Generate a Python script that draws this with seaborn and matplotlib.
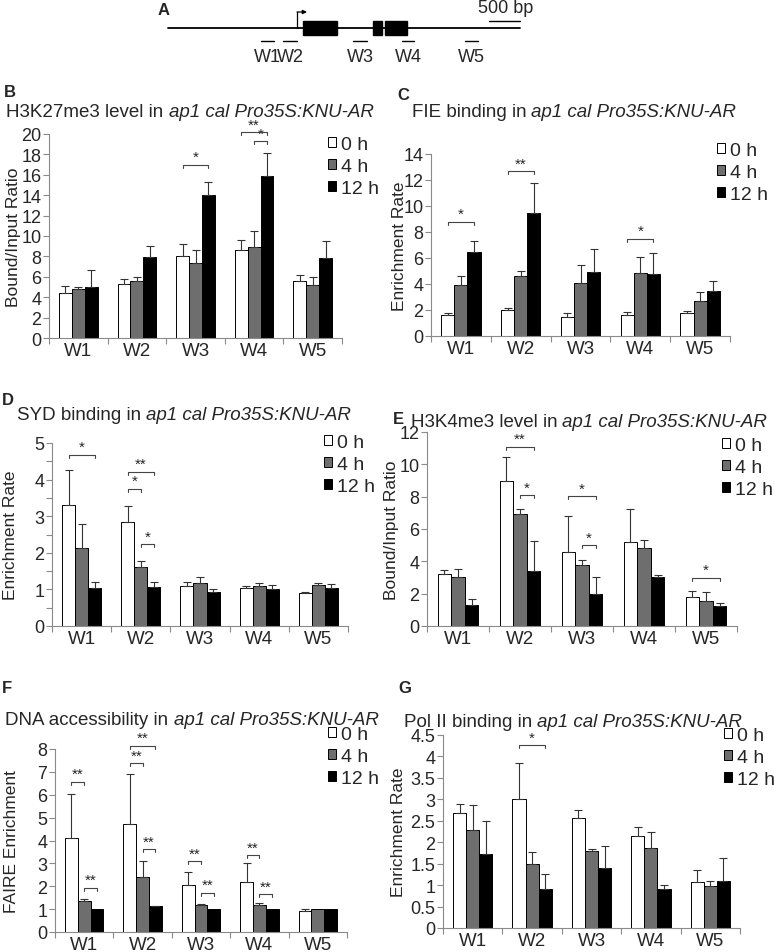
import numpy as np
import pandas as pd
import matplotlib
matplotlib.use("Agg")
import matplotlib.pyplot as plt
import seaborn as sns
from matplotlib.patches import Rectangle, Patch
from matplotlib.ticker import MultipleLocator

sns.set_theme(style="ticks")
plt.rcParams["font.family"] = ["Liberation Sans", "DejaVu Sans"]

W, H = 774, 953
fig = plt.figure(figsize=(W / 100, H / 100), dpi=100)

regions = ["W1", "W2", "W3", "W4", "W5"]
times = ["0 h", "4 h", "12 h"]
colors = ["#ffffff", "#6e6e6e", "#000000"]
title_tail = "ap1 cal Pro35S:KNU-AR"

# ---------------- Panel A gene model (bp) ----------------
gene_len = 5680
exons = [(2180, 2726), (3307, 3452), (3500, 3855)]
tss = 2081
amplicons = [(1500, 1710), (1855, 2080), (2984, 3210), (3774, 3968), (4790, 5000)]
scale_bar = (5180, 5680)

# ---------------- Panel B: H3K27me3 ----------------
b_mean = [[4.4, 5.3, 8.0, 8.6, 5.6],
          [4.8, 5.6, 7.4, 8.9, 5.2],
          [5.0, 7.9, 14.0, 15.9, 7.8]]
b_err = [[0.7, 0.5, 1.2, 1.0, 0.6],
         [0.2, 0.4, 1.2, 1.6, 0.8],
         [1.7, 1.1, 1.3, 2.2, 1.7]]
b_sig = [(2, 0, 2, 17.0, "*"), (3, 0, 2, 20.2, "**"), (3, 1, 2, 19.3, "*")]

# ---------------- Panel C: FIE ----------------
c_mean = [[1.6, 2.0, 1.5, 1.6, 1.8],
          [3.95, 4.6, 4.1, 4.85, 2.7],
          [6.5, 9.45, 4.95, 4.8, 3.45]]
c_err = [[0.2, 0.15, 0.3, 0.25, 0.1],
         [0.7, 0.4, 1.35, 1.2, 0.65],
         [0.8, 2.3, 1.75, 1.6, 0.75]]
c_sig = [(0, 0, 2, 8.8, "*"), (1, 0, 2, 12.7, "**"), (3, 0, 2, 7.5, "*")]

# ---------------- Panel D: SYD ----------------
d_mean = [[3.3, 2.85, 1.08, 1.05, 0.9],
          [2.13, 1.6, 1.18, 1.09, 1.12],
          [1.05, 1.07, 0.94, 1.0, 1.03]]
d_err = [[0.97, 0.42, 0.12, 0.03, 0.04],
         [0.67, 0.17, 0.15, 0.09, 0.06],
         [0.15, 0.13, 0.08, 0.12, 0.13]]
d_sig = [(0, 0, 2, 4.68, "*"), (1, 0, 2, 4.22, "**"), (1, 0, 1, 3.75, "*"),
         (1, 1, 2, 2.24, "*")]

# ---------------- Panel E: H3K4me3 ----------------
e_mean = [[3.2, 8.95, 4.6, 5.2, 1.8],
          [3.05, 6.95, 3.75, 4.85, 1.55],
          [1.3, 3.4, 1.95, 3.05, 1.25]]
e_err = [[0.25, 1.5, 2.2, 2.05, 0.35],
         [0.45, 0.3, 0.35, 0.45, 0.55],
         [0.4, 1.85, 1.1, 0.1, 0.2]]
e_sig = [(1, 0, 2, 11.1, "**"), (1, 1, 2, 8.1, "*"), (2, 0, 2, 8.04, "*"),
         (2, 1, 2, 5.0, "*"), (4, 0, 2, 3.0, "*")]

# ---------------- Panel F: FAIRE ----------------
f_mean = [[4.13, 4.7, 2.05, 2.2, 0.9],
          [1.37, 2.4, 1.17, 1.2, 1.0],
          [1.0, 1.13, 1.0, 1.0, 1.0]]
f_err = [[1.92, 2.2, 0.57, 0.8, 0.1],
         [0.08, 0.72, 0.07, 0.06, 0.0],
         [0.0, 0.02, 0.0, 0.0, 0.0]]
f_sig = [(0, 0, 1, 6.57, "**"), (0, 1, 2, 1.94, "**"), (1, 0, 2, 8.15, "**"),
         (1, 0, 1, 7.39, "**"), (1, 1, 2, 3.62, "**"), (2, 0, 1, 3.1, "**"),
         (2, 1, 2, 1.72, "**"), (3, 0, 1, 3.36, "**"), (3, 1, 2, 1.65, "**")]

# ---------------- Panel G: Pol II ----------------
g_mean = [[2.68, 3.0, 2.57, 2.15, 1.07],
          [2.28, 1.5, 1.79, 1.87, 0.98],
          [1.73, 0.9, 1.41, 0.92, 1.1]]
g_err = [[0.2, 0.85, 0.18, 0.2, 0.29],
         [0.59, 0.28, 0.05, 0.38, 0.12],
         [0.77, 0.36, 0.5, 0.08, 0.54]]
g_sig = [(1, 0, 2, 4.26, "*")]

SPINE = "#8a8a8a"
TICK_FS = 13
XLAB_FS = 13.5
YLAB_FS = 12.5
LEG_FS = 14
TITLE_FS = 13.5
LETTER_FS = 12


def px_axes(left, top, right, bottom):
    return fig.add_axes([left / W, 1 - bottom / H, (right - left) / W, (bottom - top) / H])


def rich_text(cx, baseline, parts, fs):
    renderer = fig.canvas.get_renderer()
    texts, widths = [], []
    gap = 0.278 * fs * 100 / 72
    for s, style in parts:
        t = fig.text(0, 1 - baseline / H, s, fontsize=fs, style=style,
                     ha="left", va="baseline")
        texts.append(t)
        widths.append(t.get_window_extent(renderer).width)
    total = sum(widths) + gap * (len(parts) - 1)
    x = cx - total / 2
    for t, w in zip(texts, widths):
        t.set_x(x / W)
        x += w + gap


def bar_panel(box, means, errs, ymax, ystep, ylabel, ylabel_right, sig, leg_xy,
              minor=None, title=None, letter=None):
    left, top, right, bottom = box
    ax = px_axes(left, top, right, bottom)
    df = pd.DataFrame({
        "region": regions * 3,
        "time": np.repeat(times, len(regions)),
        "value": np.concatenate(means),
    })
    sns.barplot(data=df, x="region", y="value", hue="time", order=regions,
                hue_order=times, palette=colors, edgecolor="black",
                linewidth=0.7, width=0.66, errorbar=None, legend=False, ax=ax)
    bar_conts = list(ax.containers)[:len(times)]
    centers = []
    for ci, cont in enumerate(bar_conts):
        xs = np.array([p.get_x() + p.get_width() / 2 for p in cont.patches])
        hs = np.array([p.get_height() for p in cont.patches])
        centers.append(xs)
        e = np.array(errs[ci])
        m = e > 0
        ax.errorbar(xs[m], hs[m], yerr=[np.zeros(m.sum()), e[m]], fmt="none",
                    ecolor="#333333", elinewidth=0.8, capsize=2.6,
                    capthick=0.8, zorder=3)
    ax.set_ylim(0, ymax)
    ax.set_xlim(-0.5, len(regions) - 0.5)
    ax.set_yticks(np.arange(0, ymax + 1e-9, ystep))
    ax.set_yticklabels([f"{v:g}" for v in np.arange(0, ymax + 1e-9, ystep)])
    if minor:
        ax.yaxis.set_minor_locator(MultipleLocator(minor))
    ax.set_xticks(range(len(regions)))
    ax.set_xticklabels(regions)
    ax.set_xticks(np.arange(-0.5, len(regions), 1), minor=True)
    ax.tick_params(axis="x", which="major", length=0, labelsize=XLAB_FS, pad=3)
    ax.tick_params(axis="x", which="minor", length=4, width=0.8, color=SPINE)
    ax.tick_params(axis="y", which="both", length=4, width=0.8, color=SPINE,
                   labelsize=TICK_FS, pad=1.5)
    ax.set_xlabel("")
    ax.set_ylabel(ylabel, fontsize=YLAB_FS)
    ax.yaxis.set_label_coords((ylabel_right - left) / (right - left), 0.5)
    for s in ["top", "right"]:
        ax.spines[s].set_visible(False)
    for s in ["left", "bottom"]:
        ax.spines[s].set_color(SPINE)
        ax.spines[s].set_linewidth(0.8)
    tick = 3.0 * ymax / (bottom - top)
    for reg, h1, h2, y, lab in sig:
        x1, x2 = centers[h1][reg], centers[h2][reg]
        ax.plot([x1, x1, x2, x2], [y - tick, y, y, y - tick], color="#444444",
                lw=0.8, clip_on=False, zorder=4)
        ax.text((x1 + x2) / 2, y + 0.2 * tick, lab, ha="center", va="bottom",
                fontsize=11, clip_on=False)
    handles = [Patch(facecolor=c, edgecolor="black", linewidth=0.7) for c in colors]
    fx, fy = leg_xy
    ax.legend(handles, times, loc="upper left", bbox_to_anchor=(fx / W, 1 - fy / H),
              bbox_transform=fig.transFigure, frameon=False, fontsize=LEG_FS,
              handlelength=0.42, handleheight=0.42, handletextpad=0.25,
              labelspacing=0.25, borderpad=0, borderaxespad=0)
    if title:
        cx, base, head = title
        rich_text(cx, base, [(head, "normal"), (title_tail, "italic")], TITLE_FS)
    if letter:
        lx, ly, lt = letter
        fig.text(lx / W, 1 - ly / H, lt, fontsize=LETTER_FS, fontweight="bold",
                 ha="left", va="baseline")
    return ax


# ---------------- Panel A drawing ----------------
bp_per_px = 500 / 31
axA = px_axes(150, 0, 560, 75)
axA.set_xlim((150 - 168) * bp_per_px, (560 - 168) * bp_per_px)
axA.set_ylim(75, 0)
axA.axis("off")
axA.plot([0, gene_len], [28.5, 28.5], color="black", lw=1.3)
for s, e in exons:
    axA.add_patch(Rectangle((s, 22), e - s, 14, facecolor="black", edgecolor="black"))
axA.plot([tss, tss], [28.5, 13], color="black", lw=0.9)
axA.annotate("", xy=(tss + 10 * bp_per_px, 13), xytext=(tss, 13),
             arrowprops=dict(arrowstyle="-|>", color="black", lw=0.9,
                             mutation_scale=6, shrinkA=0, shrinkB=0))
for i, (s, e) in enumerate(amplicons):
    axA.plot([s, e], [42, 42], color="black", lw=1.0)
    axA.text((s + e) / 2, 57, regions[i], ha="center", va="center", fontsize=13)
axA.plot(list(scale_bar), [22, 22], color="black", lw=1.0)
axA.text((scale_bar[0] + scale_bar[1]) / 2 + 20, 8.5, "500 bp", ha="center",
         va="center", fontsize=13)
fig.text(158 / W, 1 - 15 / H, "A", fontsize=LETTER_FS, fontweight="bold",
         ha="left", va="baseline")

# ---------------- Bar panels ----------------
bar_panel((49, 135, 342, 339), b_mean, b_err, 20, 2, "Bound/Input Ratio", 21,
          b_sig, (328, 137), title=(190, 117, "H3K27me3 level in"),
          letter=(4, 97, "B"))
bar_panel((431, 155, 730, 337), c_mean, c_err, 14, 2, "Enrichment Rate", 407,
          c_sig, (717, 143), title=(574, 117, "FIE binding in"),
          letter=(397, 100, "C"))
bar_panel((52, 444, 348, 627), d_mean, d_err, 5, 1, "Enrichment Rate", 18,
          d_sig, (324, 435), minor=0.5, title=(184, 420, "SYD binding in"),
          letter=(2, 405, "D"))
bar_panel((427, 433, 737, 627), e_mean, e_err, 12, 2, "Bound/Input Ratio", 399,
          e_sig, (722, 438), title=(589, 427, "H3K4me3 level in"),
          letter=(393, 424, "E"))
bar_panel((55, 750, 347, 933), f_mean, f_err, 8, 1, "FAIRE Enrichment", 19,
          f_sig, (328, 727), title=(192, 725, "DNA accessibility in"),
          letter=(2, 693, "F"))
bar_panel((443, 736, 740, 929), g_mean, g_err, 4.5, 0.5, "Enrichment Rate", 406,
          g_sig, (724, 728), title=(573, 727, "Pol II binding in"),
          letter=(398, 693, "G"))

fig.savefig("out.png", dpi=100)
